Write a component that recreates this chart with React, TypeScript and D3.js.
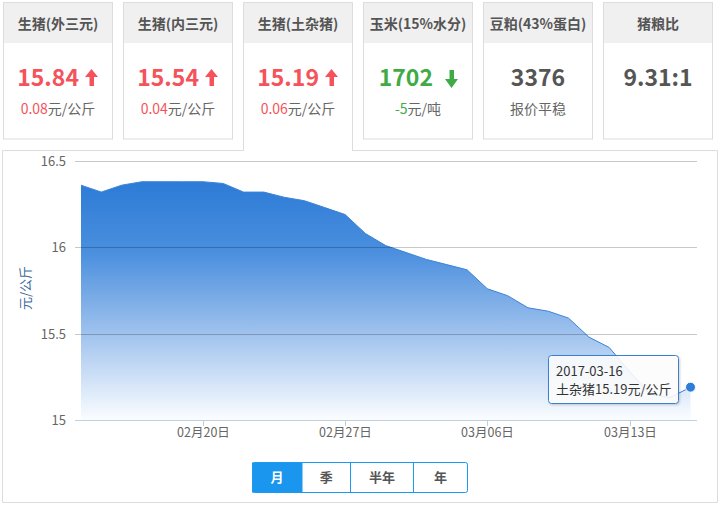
import React from 'react';
import * as d3 from 'd3';

// Summary cards
const cardTitles = ['生猪(外三元)', '生猪(内三元)', '生猪(土杂猪)', '玉米(15%水分)', '豆粕(43%蛋白)', '猪粮比'];
const cardValues = ['15.84', '15.54', '15.19', '1702', '3376', '9.31:1'];
const cardTrends = ['up', 'up', 'up', 'down', 'flat', 'flat'];
const cardChanges = ['0.08', '0.04', '0.06', '-5', '', ''];
const cardUnits = ['元/公斤', '元/公斤', '元/公斤', '元/吨', '报价平稳', ''];

// 土杂猪 daily price, 2017-02-14 .. 2017-03-16
const startDate = '2017-02-14';
const prices = [
  16.36, 16.32, 16.36, 16.38, 16.38, 16.38, 16.38, 16.37, 16.32, 16.32,
  16.29, 16.27, 16.23, 16.19, 16.08, 16.01, 15.97, 15.93, 15.90, 15.87,
  15.76, 15.72, 15.65, 15.63, 15.59, 15.48, 15.42, 15.28, 15.15, 15.13, 15.19,
];
const yTicks = [15, 15.5, 16, 16.5];
const xTickDates = ['2017-02-20', '2017-02-27', '2017-03-06', '2017-03-13'];
const rangeButtons = ['月', '季', '半年', '年'];

const FONT = '"Microsoft YaHei", "Noto Sans CJK SC", "Noto Sans", sans-serif';
const RED = '#f5535b';
const GREEN = '#3fab47';
const GREY = '#555';

const parse = d3.utcParse('%Y-%m-%d');
const fmtTick = d3.utcFormat('%m月%d日');
const fmtDay = d3.utcFormat('%Y-%m-%d');

const series = prices.map((v, i) => ({ date: d3.utcDay.offset(parse(startDate)!, i), value: v }));

export default function App() {
  const x = d3.scaleUtc()
    .domain([series[0].date, series[series.length - 1].date])
    .range([81, 690.5]);
  const y = d3.scaleLinear().domain([15, 16.5]).range([420, 161]);
  const plotLeft = 75;
  const plotRight = 697;

  const area = d3.area<{ date: Date; value: number }>()
    .x(d => x(d.date))
    .y0(y(15))
    .y1(d => y(d.value));
  const line = d3.line<{ date: Date; value: number }>()
    .x(d => x(d.date))
    .y(d => y(d.value));

  const last = series[series.length - 1];
  const lx = x(last.date);
  const ly = y(last.value);

  const cardW = 109;
  const cardGap = 11;
  const cardX = (i: number) => 3 + i * (cardW + cardGap) + 0.5;

  const upArrow = (ax: number, color: string) => (
    <path
      d={`M${ax + 6.5},69 L${ax + 13},77 L${ax + 9},77 L${ax + 9},86 L${ax + 4.5},86 L${ax + 4.5},77 L${ax},77 Z`}
      fill={color}
    />
  );
  const downArrow = (ax: number, color: string) => (
    <path
      d={`M${ax + 4.5},70 L${ax + 9},70 L${ax + 9},79 L${ax + 13},79 L${ax + 6.5},88 L${ax},79 L${ax + 4.5},79 Z`}
      fill={color}
    />
  );

  const btnEdges = [252, 302, 350.5, 413.5, 467.5];

  return (
    <div style={{ position: 'absolute', left: 0, top: 0 }}>
      <svg width={723} height={510} style={{ display: 'block', fontFamily: FONT }}>
        <defs>
          <linearGradient id="areaFill" gradientUnits="userSpaceOnUse" x1={0} y1={181} x2={0} y2={420}>
            <stop offset="0" stopColor="#2c7bd6" />
            <stop offset="0.3" stopColor="#4b8fde" />
            <stop offset="0.65" stopColor="#a2c4ee" />
            <stop offset="1" stopColor="#fbfdff" />
          </linearGradient>
          <filter id="tipShadow" x="-10%" y="-20%" width="130%" height="150%">
            <feDropShadow dx="1" dy="1" stdDeviation="1" floodColor="#000" floodOpacity="0.2" />
          </filter>
        </defs>

        {/* chart container border, open under the active card */}
        <path
          d="M244,150.5 L2.5,150.5 L2.5,502.5 L717.5,502.5 L717.5,150.5 L353,150.5"
          fill="none"
          stroke="#dddddd"
        />

        {/* cards */}
        {cardTitles.map((t, i) => {
          const cx0 = cardX(i);
          const cx = cx0 + cardW / 2;
          const active = i === 2;
          const trend = cardTrends[i];
          const valColor = trend === 'up' ? RED : trend === 'down' ? GREEN : GREY;
          return (
            <g key={t}>
              <rect x={cx0} y={2.5} width={cardW} height={active ? 148 : 136.5} fill="#fff" />
              <rect x={cx0} y={2.5} width={cardW} height={40.5} fill="#f0f0f0" />
              {active ? (
                <path
                  d={`M${cx0},151 L${cx0},2.5 L${cx0 + cardW},2.5 L${cx0 + cardW},151`}
                  fill="none"
                  stroke="#dddddd"
                />
              ) : (
                <rect x={cx0} y={2.5} width={cardW} height={136.5} fill="none" stroke="#dddddd" />
              )}
              <text x={cx} y={29} textAnchor="middle" fontSize={14} fontWeight="bold" fill="#555">
                {t}
              </text>
              {trend === 'flat' ? (
                <text x={cx} y={86} textAnchor="middle" fontSize={23} fontWeight="bold" fill={valColor}>
                  {cardValues[i]}
                </text>
              ) : (
                <>
                  <text
                    x={cx + (trend === 'down' ? 15 : 21)}
                    y={86}
                    textAnchor="end"
                    fontSize={23}
                    fontWeight="bold"
                    fill={valColor}
                  >
                    {cardValues[i]}
                  </text>
                  {trend === 'up' ? upArrow(cx + 27, valColor) : downArrow(cx + 27, valColor)}
                </>
              )}
              {(cardChanges[i] || cardUnits[i]) && (
                <text x={cx} y={114} textAnchor="middle" fontSize={14} fill="#666">
                  {cardChanges[i] && <tspan fill={valColor}>{cardChanges[i]}</tspan>}
                  <tspan>{cardUnits[i]}</tspan>
                </text>
              )}
            </g>
          );
        })}

        {/* area + line */}
        <path d={area(series) ?? ''} fill="url(#areaFill)" />
        <path d={line(series) ?? ''} fill="none" stroke="#3a84d8" strokeWidth={1} />

        {/* grid lines over the area */}
        {yTicks.filter(t => t !== 15).map(t => (
          <line
            key={t}
            x1={plotLeft}
            x2={plotRight}
            y1={Math.round(y(t)) + 0.5}
            y2={Math.round(y(t)) + 0.5}
            stroke="#000"
            strokeOpacity={0.22}
          />
        ))}
        {/* x axis */}
        <line x1={plotLeft} x2={plotRight} y1={420.5} y2={420.5} stroke="#c0d0e0" />
        {xTickDates.map(d => {
          const tx = Math.round(x(parse(d)!)) + 0.5;
          return (
            <g key={d}>
              <line x1={tx} x2={tx} y1={420} y2={426} stroke="#c0d0e0" />
              <text x={tx} y={437} textAnchor="middle" fontSize={12.5} fill="#666">
                {fmtTick(parse(d)!)}
              </text>
            </g>
          );
        })}
        {/* y axis labels */}
        {yTicks.map(t => (
          <text key={t} x={66} y={y(t) + 5} textAnchor="end" fontSize={13} fill="#666">
            {d3.format('~g')(t)}
          </text>
        ))}
        <text
          transform="translate(30,288) rotate(-90)"
          textAnchor="middle"
          fontSize={13}
          fill="#3d6a9c"
        >
          元/公斤
        </text>

        {/* hovered point + tooltip */}
        <circle cx={lx} cy={ly} r={5} fill="#2f7dd8" stroke="#fff" strokeWidth={1} />
        <rect
          x={548.5}
          y={355.5}
          width={130}
          height={48}
          rx={3}
          fill="#fff"
          fillOpacity={0.85}
          stroke="#3b7fd0"
          filter="url(#tipShadow)"
        />
        <text x={556} y={376} fontSize={13} fill="#333">
          {fmtDay(last.date)}
        </text>
        <text x={556} y={394} fontSize={13} fill="#333">
          {`土杂猪${last.value.toFixed(2)}元/公斤`}
        </text>

        {/* range buttons */}
        {rangeButtons.map((b, i) => {
          const bx = btnEdges[i];
          const bw = btnEdges[i + 1] - bx;
          const active = i === 0;
          return (
            <g key={b}>
              <rect x={bx} y={462.5} width={bw} height={30} fill={active ? '#1a96ee' : '#fff'} />
              <text
                x={bx + bw / 2}
                y={482}
                textAnchor="middle"
                fontSize={13}
                fontWeight="bold"
                fill={active ? '#fff' : '#555'}
              >
                {b}
              </text>
            </g>
          );
        })}
        <rect x={252.5} y={462.5} width={215} height={30} rx={2} fill="none" stroke="#1a9af0" />
        {btnEdges.slice(1, -1).map(e => (
          <line key={e} x1={e} x2={e} y1={462.5} y2={492.5} stroke="#1a9af0" />
        ))}
      </svg>
    </div>
  );
}
